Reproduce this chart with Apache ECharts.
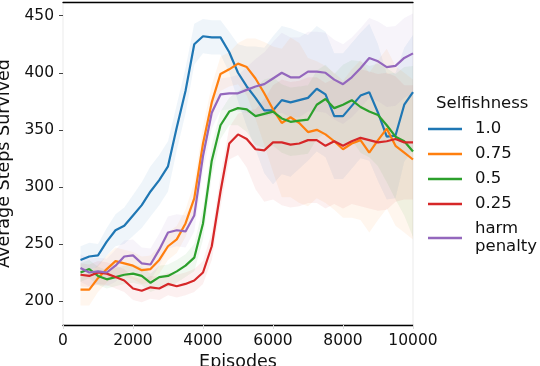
<!DOCTYPE html>
<html>
<head>
<meta charset="utf-8">
<script src="https://cdn.jsdelivr.net/npm/echarts@6/dist/echarts.min.js"></script>
<style>
  html, body { margin: 0; padding: 0; background: #fff; }
  #main { width: 540px; height: 366px; }
</style>
</head>
<body>
<div id="main"></div>
<script>
// episodes sampled every 250
var episodes = [500, 750, 1000, 1250, 1500, 1750, 2000, 2250, 2500, 2750, 3000, 3250, 3500, 3750,
  4000, 4250, 4500, 4750, 5000, 5250, 5500, 5750, 6000, 6250, 6500, 6750, 7000, 7250, 7500, 7750,
  8000, 8250, 8500, 8750, 9000, 9250, 9500, 9750, 10000];

var names = ['1.0', '0.75', '0.5', '0.25', 'harm penalty'];
var colors = ['#1f77b4', '#ff7f0e', '#2ca02c', '#d62728', '#9467bd'];

// mean steps survived
var selfish100 = [236, 239, 240, 252, 262, 266, 275, 284, 296, 306, 318, 352, 384, 425,
  432, 431, 431, 418, 400, 388, 378, 367, 367, 376, 374, 376, 378, 386, 381, 362,
  362, 371, 380, 383, 365, 344, 345, 372, 383];
var selfish075 = [210, 210, 220, 228, 235, 233, 231, 227, 228, 236, 248, 254, 268, 290,
  338, 374, 399, 403, 408, 405, 395, 382, 368, 356, 361, 356, 348, 350, 346, 340,
  333, 338, 341, 330, 341, 351, 336, 330, 324];
var selfish050 = [225, 228, 222, 219, 221, 223, 224, 222, 216, 221, 222, 226, 231, 238,
  268, 323, 354, 366, 369, 368, 362, 364, 366, 360, 357, 358, 359, 372, 377, 369,
  372, 376, 370, 366, 363, 354, 344, 340, 331];
var selfish025 = [223, 222, 225, 224, 221, 218, 211, 209, 212, 211, 215, 213, 215, 218,
  225, 248, 296, 338, 346, 342, 333, 332, 339, 339, 337, 338, 341, 341, 336, 340,
  336, 340, 343, 341, 339, 340, 342, 339, 339];
var harmPenalty = [229, 225, 226, 225, 231, 239, 240, 233, 232, 245, 260, 262, 261, 275,
  327, 365, 381, 382, 382, 385, 388, 390, 395, 400, 396, 396, 401, 401, 400, 394,
  390, 396, 404, 413, 410, 405, 406, 413, 417];

// half width of the shaded band
var spread100 = [12, 12, 10, 12, 14, 16, 18, 20, 22, 22, 22, 20, 20, 18, 15, 15, 15, 18, 25,
  35, 45, 55, 65, 65, 65, 60, 55, 55, 55, 55, 55, 55, 55, 60, 60, 55, 55, 50, 50];
var spread075 = [14, 14, 12, 12, 12, 12, 12, 12, 12, 12, 12, 12, 12, 14, 15, 15, 15, 15, 18,
  25, 35, 45, 55, 65, 70, 70, 65, 60, 60, 60, 60, 65, 70, 70, 70, 70, 70, 70, 70];
var spread050 = [8, 8, 8, 8, 8, 8, 8, 8, 8, 10, 10, 10, 10, 12, 14, 14, 12, 12, 15,
  20, 25, 30, 30, 30, 30, 30, 30, 30, 30, 30, 35, 35, 40, 40, 45, 50, 55, 65, 75];
var spread025 = [10, 10, 10, 10, 10, 10, 10, 10, 10, 10, 10, 10, 10, 10, 10, 12, 14, 14, 18,
  25, 35, 45, 50, 55, 55, 55, 55, 55, 55, 55, 55, 55, 60, 60, 60, 60, 55, 50, 50];
var spreadHarm = [12, 12, 12, 12, 14, 14, 14, 14, 14, 14, 14, 14, 14, 14, 14, 14, 14, 14, 16,
  20, 24, 28, 32, 35, 35, 35, 35, 35, 35, 35, 35, 35, 35, 35, 35, 35, 35, 35, 35];

var xTicks = [0, 2000, 4000, 6000, 8000, 10000];
var yTicks = [200, 250, 300, 350, 400, 450];

var means = [selfish100, selfish075, selfish050, selfish025, harmPenalty];
var spreads = [spread100, spread075, spread050, spread025, spreadHarm];

var font = 'DejaVu Sans';

function bandSeries(k) {
  var data = episodes.map(function (e, i) {
    return [e, means[k][i] - spreads[k][i], means[k][i] + spreads[k][i]];
  });
  return {
    type: 'custom',
    name: 'band' + k,
    silent: true,
    z: 1,
    encode: { x: 0, y: [1, 2] },
    data: data,
    renderItem: function (params, api) {
      if (params.dataIndex !== 0) return;
      var top = [], bottom = [];
      for (var i = 0; i < data.length; i++) {
        top.push(api.coord([data[i][0], data[i][2]]));
        bottom.push(api.coord([data[i][0], data[i][1]]));
      }
      return {
        type: 'polygon',
        shape: { points: top.concat(bottom.reverse()) },
        style: { fill: colors[k], opacity: 0.07 }
      };
    }
  };
}

function lineSeries(k) {
  return {
    type: 'line',
    name: names[k],
    z: 3,
    showSymbol: false,
    symbol: 'none',
    lineStyle: { color: colors[k], width: 2.2 },
    itemStyle: { color: colors[k] },
    data: episodes.map(function (e, i) { return [e, means[k][i]]; })
  };
}

var series = [];
for (var k = 0; k < 5; k++) series.push(bandSeries(k));
for (var k = 0; k < 5; k++) series.push(lineSeries(k));

var option = {
  animation: false,
  textStyle: { fontFamily: font },
  title: {
    text: 'Selfishness',
    left: 436,
    top: 95,
    padding: 0,
    textStyle: { fontFamily: font, fontSize: 16.5, fontWeight: 'normal', color: '#111' }
  },
  legend: {
    orient: 'vertical',
    left: 428,
    top: 120,
    padding: 0,
    itemGap: 7,
    itemWidth: 34,
    itemHeight: 2.5,
    icon: 'rect',
    data: names,
    formatter: function (name) { return name.replace(' ', '\n'); },
    textStyle: { fontFamily: font, fontSize: 16.5, lineHeight: 18, color: '#111', padding: [0, 0, 0, 8] }
  },
  grid: {
    left: 63,
    right: 127,
    top: 2,
    bottom: 41,
    containLabel: false,
    outerBoundsMode: 'none',
    show: true,
    borderColor: '#ebebeb',
    borderWidth: 1
  },
  xAxis: [{
    type: 'value',
    min: 0,
    max: 10000,
    interval: 2000,
    name: 'Episodes',
    nameLocation: 'middle',
    nameGap: 27,
    nameTextStyle: { fontFamily: font, fontSize: 17.5, color: '#111' },
    axisLine: { show: true, onZero: false, lineStyle: { color: '#000', width: 1.3 } },
    axisTick: { show: true, length: 4, lineStyle: { color: '#ddd' } },
    axisLabel: {
      margin: 8, fontFamily: font, fontSize: 15.5, color: '#111',
      formatter: function (v) { return String(v); }
    },
    splitLine: { show: false }
  }, {
    type: 'value',
    position: 'top',
    min: 0,
    max: 10000,
    axisLine: { show: true, lineStyle: { color: '#000', width: 1.3 } },
    axisTick: { show: false },
    axisLabel: { show: false },
    splitLine: { show: false }
  }],
  yAxis: {
    type: 'value',
    min: 179,
    max: 462,
    name: 'Average Steps Survived',
    nameLocation: 'middle',
    nameGap: 44,
    nameTextStyle: { fontFamily: font, fontSize: 17.5, color: '#111' },
    axisLine: { show: false },
    axisTick: { show: true, length: 4, customValues: yTicks, lineStyle: { color: '#444' } },
    axisLabel: {
      margin: 9, customValues: yTicks, fontFamily: font, fontSize: 15.5, color: '#111',
      formatter: function (v) { return String(v); }
    },
    splitLine: { show: false }
  },
  series: series
};

var myChart = echarts.init(document.getElementById('main'));
myChart.setOption(option);
</script>
</body>
</html>
